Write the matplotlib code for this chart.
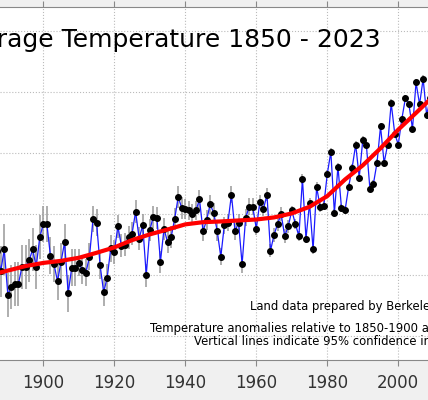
import matplotlib
matplotlib.use('Agg')
import matplotlib.pyplot as plt

# annual land temperature anomaly (deg C, relative to 1850-1900)
years = list(range(1887, 2010))
anomaly = [
    0.20, 0.03, 0.21, -0.16, -0.10, -0.07, -0.07, 0.07, 0.07, 0.12,   # 1887-1896
    0.21, 0.07, 0.31, 0.42, 0.42, 0.16, 0.09, -0.05, 0.11, 0.27,      # 1897-1906
    -0.15, 0.06, 0.06, 0.10, 0.04, 0.02, 0.15, 0.46, 0.43, 0.08,      # 1907-1916
    -0.14, -0.02, 0.22, 0.19, 0.40, 0.24, 0.25, 0.31, 0.34, 0.52,     # 1917-1926
    0.30, 0.41, 0.00, 0.37, 0.48, 0.47, 0.11, 0.38, 0.27, 0.31,       # 1927-1936
    0.46, 0.64, 0.55, 0.54, 0.53, 0.50, 0.53, 0.62, 0.36, 0.45,       # 1937-1946
    0.58, 0.51, 0.36, 0.15, 0.41, 0.43, 0.66, 0.36, 0.43, 0.09,       # 1947-1956
    0.47, 0.56, 0.56, 0.38, 0.60, 0.54, 0.66, 0.20, 0.33, 0.42,       # 1957-1966
    0.50, 0.32, 0.40, 0.53, 0.42, 0.32, 0.79, 0.30, 0.59, 0.21,       # 1967-1976
    0.72, 0.56, 0.57, 0.83, 1.01, 0.51, 0.89, 0.55, 0.53, 0.72,       # 1977-1986
    0.88, 1.07, 0.80, 1.11, 1.07, 0.71, 0.75, 0.92, 1.22, 0.92,       # 1987-1996
    1.07, 1.41, 1.16, 1.07, 1.28, 1.45, 1.40, 1.20, 1.58, 1.40,       # 1997-2006
    1.61, 1.31, 1.45,                                                 # 2007-2009
]

# half width of the 95% bars, one value per decade
decades = [1880, 1890, 1900, 1910, 1920, 1930, 1940, 1950, 1960, 1970, 1980, 1990, 2000]
decade_unc = [0.21, 0.18, 0.15, 0.11, 0.095, 0.09, 0.08, 0.07, 0.055, 0.04, 0.033, 0.03, 0.028]

# smoothed curve (red), read every 5 years
smooth_years = list(range(1885, 2011, 5))
smooth_values = [0.00, 0.037, 0.074, 0.10, 0.117, 0.142, 0.183, 0.227, 0.287, 0.334,
                 0.374, 0.416, 0.434, 0.44, 0.448, 0.456, 0.473, 0.506, 0.56, 0.648,
                 0.784, 0.90, 1.04, 1.193, 1.33, 1.47]

xticks = [1900, 1920, 1940, 1960, 1980, 2000]
yticks = [-0.5, 0.0, 0.5, 1.0, 1.5, 2.0]

title = 'Land Average Temperature 1850 - 2023'
notes = ['Land data prepared by Berkeley Earth',
         'Temperature anomalies relative to 1850-1900 average',
         'Vertical lines indicate 95% confidence interval']

unc = [decade_unc[decades.index(y // 10 * 10)] for y in years]
lo = [a - u for a, u in zip(anomaly, unc)]
hi = [a + u for a, u in zip(anomaly, unc)]

fig = plt.figure(figsize=(4.28, 4.0), dpi=100, facecolor='#f0f0f0')
ax = fig.add_axes([0, 0.0988, 1, 0.8842])
ax.set_facecolor('white')
ax.set_xlim(1887.8, 2008.37)
ax.set_ylim(-0.7, 2.2)

ax.vlines(years, lo, hi, color='#999999', lw=1.1, zorder=2)
ax.plot(years, anomaly, color='#1a1aff', lw=0.9, zorder=3)
ax.plot(years, anomaly, 'o', color='black', ms=4, zorder=4)
ax.plot(smooth_years, smooth_values, color='red', lw=3, zorder=5, solid_capstyle='round')

ax.set_xticks(xticks)
ax.set_yticks(yticks)
ax.grid(True, linestyle=':', color='#bbbbbb', lw=0.8)
ax.set_axisbelow(True)
ax.tick_params(axis='y', left=False, labelleft=False)
ax.tick_params(axis='x', top=True, direction='out', length=4.5, color='#888888',
               labelsize=12, labelcolor='#333333', pad=5)
for side in ['left', 'right']:
    ax.spines[side].set_visible(False)
for side in ['top', 'bottom']:
    ax.spines[side].set_color('#888888')

fig.text(381 / 428, 1 - 46.7 / 400, title, ha='right', va='baseline', fontsize=18)
fig.text(250 / 428, 1 - 310 / 400, notes[0], ha='left', va='baseline', fontsize=8.4)
fig.text(150 / 428, 1 - 331.7 / 400, notes[1], ha='left', va='baseline', fontsize=8.4)
fig.text(194 / 428, 1 - 345.3 / 400, notes[2], ha='left', va='baseline', fontsize=8.4)

fig.savefig('out.png', dpi=100, facecolor=fig.get_facecolor())
